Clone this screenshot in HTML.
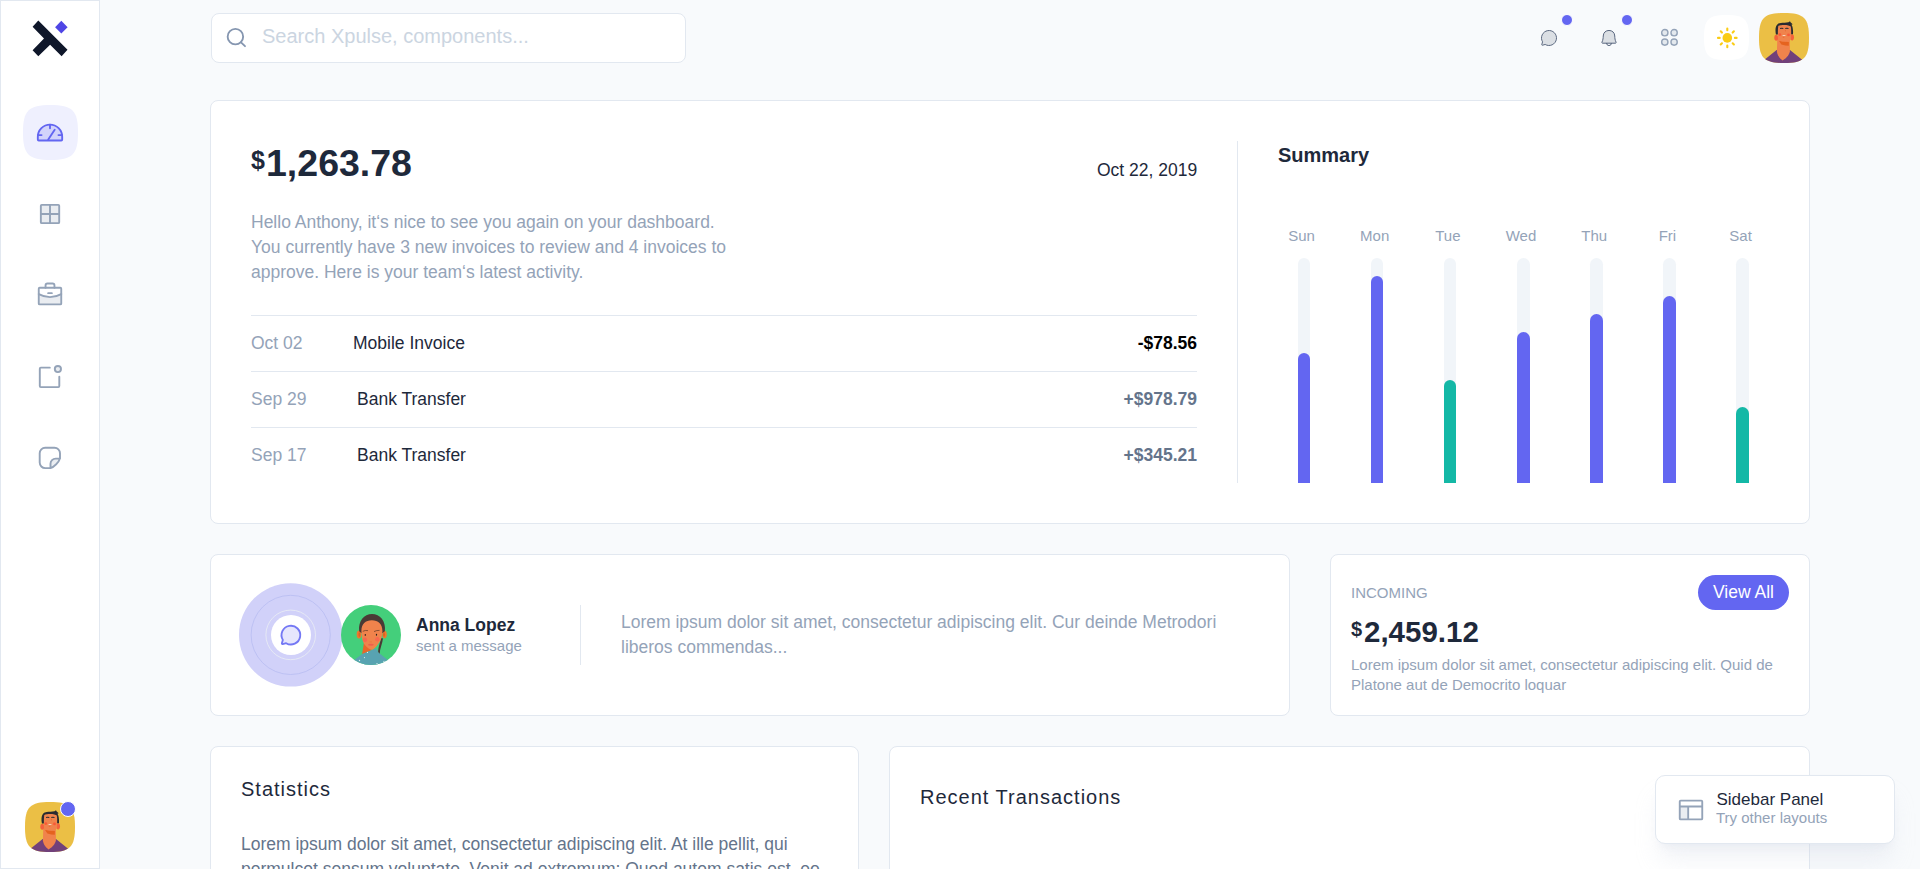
<!DOCTYPE html>
<html lang="en">
<head>
<meta charset="utf-8">
<title>Xpulse Dashboard</title>
<style>
*{box-sizing:border-box;margin:0;padding:0}
html,body{width:1920px;height:869px;overflow:hidden}
body{background:#f8fafc;font-family:"Liberation Sans",sans-serif;color:#1e293b;position:relative}
.abs{position:absolute}
.t{position:absolute;white-space:nowrap;line-height:1}
.card{position:absolute;background:#fff;border:1px solid #e2e8f0;border-radius:8px}
.muted{color:#94a3b8}
.hr{position:absolute;height:1px;background:#e2e8f0}
.vr{position:absolute;width:1px;background:#e2e8f0}
svg{display:block;position:absolute;overflow:visible}
.sq{clip-path:url(#squircle)}
/* sidebar */
#side{position:absolute;left:0;top:0;width:100px;height:869px;background:#fff;border:1px solid #e2e8f0}
/* bars */
.track{position:absolute;top:258px;width:13px;height:225px;background:#f1f5f9;border-radius:7px 7px 0 0;overflow:hidden}
.fill{position:absolute;left:0;bottom:0;width:13px;border-radius:7px 7px 0 0;background:#6366f1}
.fill.g{background:#14b8a6}
.day{position:absolute;top:227px;width:60px;text-align:center;font-size:15px;line-height:17px;color:#94a3b8}
</style>
</head>
<body>
<svg width="0" height="0" style="position:absolute">
  <defs>
    <clipPath id="squircle" clipPathUnits="objectBoundingBox">
      <path d="M0.5,0 C0.9,0 1,0.1 1,0.5 C1,0.9 0.9,1 0.5,1 C0.1,1 0,0.9 0,0.5 C0,0.1 0.1,0 0.5,0 Z"/>
    </clipPath>
  </defs>
</svg>

<!-- SIDEBAR -->
<div id="side"></div>

<!-- logo -->
<svg style="left:30px;top:18px" width="40" height="40" viewBox="0 0 40 40">
  <path d="M2.6,8.7 L8.3,2.6 L37.5,31.8 L31.6,38.3 L20.1,26.7 L8.3,38.3 L2.6,32.3 L14,20.5 Z" fill="#0f172a"/>
  <path d="M31.3,2.8 L37.6,9.3 L31.3,15.5 L25.1,9.3 Z" fill="#4f46e5"/>
</svg>
<!-- active bg -->
<div class="abs sq" style="left:23px;top:105px;width:55px;height:55px;background:#eff0fe"></div>
<!-- gauge -->
<svg style="left:35px;top:118px" width="30" height="30" viewBox="0 0 256 256" fill="none" stroke="#6366f1" stroke-width="16" stroke-linecap="round" stroke-linejoin="round">
  <path d="M24,184 V160 a104,104 0 0 1 208,0 v24 a8,8 0 0 1 -8,8 H32 a8,8 0 0 1 -8,-8 Z" fill="#6366f1" fill-opacity="0.2"/>
  <path d="M128,56 V88 M24,146 H56 M200,146 H232 M113,184 L168,100"/>
</svg>
<!-- grid -->
<svg style="left:30px;top:194px" width="40" height="40" viewBox="0 0 40 40" fill="none" stroke="#94a3b8" stroke-width="1.9" stroke-linejoin="round">
  <rect x="10.85" y="10.85" width="18.35" height="18.3" rx="0.9" fill="#94a3b8" fill-opacity="0.2"/>
  <path d="M20,10.85 V29.15 M10.85,20 H29.2"/>
</svg>
<!-- briefcase -->
<svg style="left:35px;top:280px" width="30" height="30" viewBox="0 0 256 256" fill="none" stroke="#94a3b8" stroke-width="16" stroke-linecap="round" stroke-linejoin="round">
  <path d="M32,120 Q128,172 224,120 V200 a8,8 0 0 1 -8,8 H40 a8,8 0 0 1 -8,-8 Z" fill="#94a3b8" fill-opacity="0.2" stroke="none"/>
  <rect x="32" y="66" width="192" height="142" rx="8"/>
  <path d="M90,66 V46 a16,16 0 0 1 16,-16 H150 a16,16 0 0 1 16,16 V66"/>
  <path d="M32,120 Q128,172 224,120"/>
  <path d="M112,112 H144"/>
</svg>
<!-- notification -->
<svg style="left:30px;top:357px" width="40" height="40" viewBox="0 0 40 40" fill="none" stroke="#94a3b8" stroke-width="1.9" stroke-linecap="round" stroke-linejoin="round">
  <path d="M29.3,19.8 V29.1 a1,1 0 0 1 -1,1 H10.8 a1,1 0 0 1 -1,-1 V11.65 a1,1 0 0 1 1,-1 H19.8"/>
  <circle cx="27.9" cy="12.05" r="3.1" fill="#94a3b8" fill-opacity="0.2"/>
</svg>
<!-- sticker -->
<svg style="left:30px;top:438px" width="40" height="40" viewBox="0 0 40 40" fill="none" stroke="#94a3b8" stroke-width="1.9" stroke-linecap="round" stroke-linejoin="round">
  <path d="M20.5,30.1 V25.8 a5.2,5.2 0 0 1 5.2,-5.2 H30 Z" fill="#94a3b8" fill-opacity="0.2" stroke="none"/>
  <path d="M20.5,30.1 H15.2 A5.5,5.5 0 0 1 9.7,24.6 V15.2 A5.5,5.5 0 0 1 15.2,9.7 H24.5 A5.5,5.5 0 0 1 30,15.2 V20.6 C29,24 24,29 20.5,30.1 V25.8 a5.2,5.2 0 0 1 5.2,-5.2 H30"/>
</svg>
<!-- bottom avatar -->
<svg class="sq" style="left:25px;top:802px" width="50" height="50" viewBox="0 0 50 50"><g>
    <rect width="50" height="50" fill="#ebbf45"/>
    <!-- shirt -->
    <path d="M2,50 L6.7,45.8 L17.6,37 L31,37 L42.8,46.6 L48,50 Z" fill="#71407a"/>
    <!-- neck -->
    <path d="M18.3,26 L30.8,26 L30.9,38.5 C30,43 26,46 23.6,47.4 C21.5,46 18.4,43 17.9,38.5 Z" fill="#f0834c"/>
    <!-- neck shadow -->
    <path d="M20,28 L29.9,29 L29.8,32.7 L26.2,32.4 L22.4,31.4 Z" fill="#e5631f"/>
    <!-- ears -->
    <ellipse cx="17.2" cy="24.8" rx="1.9" ry="3" fill="#f4623b"/>
    <ellipse cx="33.1" cy="24.3" rx="1.9" ry="3.1" fill="#f4623b"/>
    <!-- face -->
    <path d="M18.9,14 C18.9,12.5 20,11.9 25.5,11.9 C31,11.9 32.1,12.5 32.1,14 L32.1,25 C32.1,27.4 29.5,28.6 25.5,28.6 C21.5,28.6 18.9,27.4 18.9,25 Z" fill="#f0834c"/>
    <!-- hair -->
    <path d="M16.9,21.6 C16.2,17.5 16.3,13.8 17.9,11.9 C19.1,10.5 20.4,10 21.8,9.9 C24,9.5 27,10 29.5,9.3 L31,8.2 L31.5,9.3 L33.7,11.3 L32.5,11.7 C33.8,13.5 34.3,17.5 34,21.2 L32.1,21.2 C32.2,18 32.2,15.5 31.8,13.6 C31,12.4 28,11.9 25.5,11.9 C23,11.9 20.5,12.2 19.3,13 C18.9,15 18.9,18 18.9,21.6 Z" fill="#2b2b31"/>
    <circle cx="20.8" cy="21.6" r="1.4" fill="#f85a38"/>
    <circle cx="29.5" cy="21.9" r="1.4" fill="#f85a38"/>
    <path d="M21.1,15.6 Q22.7,14.9 24.3,15.6" stroke="#2b2b31" stroke-width="1.1" fill="none"/>
    <path d="M26.3,15.6 Q27.9,14.9 29.5,15.6" stroke="#2b2b31" stroke-width="1.1" fill="none"/>
    <path d="M26.4,17 L26.5,18.4" stroke="#e0662a" stroke-width="0.6"/>
    <path d="M22.9,22 Q25,22.4 27.1,22 Q25,24 22.9,22 Z" fill="#fff"/>
    <ellipse cx="24.6" cy="24.2" rx="0.9" ry="0.5" fill="#ea6a35"/>
  </g></svg>
<div class="abs" style="left:60px;top:801px;width:16px;height:16px;border-radius:50%;background:#6366f1;border:1px solid #fff"></div>


<!-- TOPBAR -->
<div class="abs" style="left:211px;top:13px;width:475px;height:50px;background:#fff;border:1px solid #e2e8f0;border-radius:8px"></div>
<div class="t" style="left:262px;top:25px;font-size:20px;line-height:22px;color:#cbd5e1">Search Xpulse, components...</div>

<!-- search icon -->
<svg style="left:225px;top:26px" width="24" height="24" viewBox="0 0 24 24" fill="none" stroke="#8596b0" stroke-width="1.85" stroke-linecap="round">
  <circle cx="10.4" cy="10.65" r="7.75"/><path d="M16.0,16.3 L20.0,20.2"/>
</svg>
<!-- chat -->
<svg style="left:1539px;top:28px" width="20" height="20" viewBox="0 0 256 256">
  <path d="M45.4,177 A96,96 0 1 1 79,210.6 L44,220.6 a8,8 0 0 1 -8.6,-8.6 Z" fill="#475569" fill-opacity="0.16" stroke="#526079" stroke-width="12" stroke-linejoin="round"/>
</svg>
<div class="abs" style="left:1561px;top:14px;width:12px;height:12px;border-radius:50%;background:#6366f1;border:1px solid #fff"></div>
<!-- bell -->
<svg style="left:1599px;top:28px" width="20" height="20" viewBox="0 0 20 20" fill="none" stroke="#526079" stroke-width="0.95" stroke-linejoin="round" stroke-linecap="round">
  <path d="M3.5,15.2 C2.8,15.2 2.7,14.6 3,14 C4,12 4.2,10 4.25,8 C4.3,4.6 6.8,2.45 10,2.45 C13.2,2.45 15.7,4.6 15.75,8 C15.8,10 16,12 17,14 C17.3,14.6 17.2,15.2 16.5,15.2 Z" fill="#475569" fill-opacity="0.16"/>
  <path d="M7.6,15.4 a2.4,2.2 0 0 0 4.8,0"/>
</svg>
<div class="abs" style="left:1621px;top:14px;width:12px;height:12px;border-radius:50%;background:#6366f1;border:1px solid #fff"></div>
<!-- circles four -->
<svg style="left:1659px;top:28px" width="20" height="20" viewBox="0 0 20 20" fill="#94a3b8" fill-opacity="0.2" stroke="#94a3b8" stroke-width="1.4">
  <circle cx="5.8" cy="4.7" r="3.15"/><circle cx="15.1" cy="4.7" r="3.15"/><circle cx="5.8" cy="14.1" r="3.15"/><circle cx="15.1" cy="14.1" r="3.15"/>
</svg>
<!-- sun -->
<div class="abs sq" style="left:1704px;top:15px;width:45px;height:45px;background:#fff"></div>
<svg style="left:1715px;top:26px" width="24" height="24" viewBox="0 0 24 24" stroke="#facc15" stroke-width="2.1" stroke-linecap="round">
  <circle cx="12.3" cy="11.9" r="4.8" fill="#facc15" stroke="none"/>
  <g transform="translate(12.3,11.9)">
    <path d="M0,-7.6 V-9.3 M0,7.6 V9.3 M-7.6,0 H-9.3 M7.6,0 H9.3 M5.37,-5.37 L6.58,-6.58 M-5.37,-5.37 L-6.58,-6.58 M5.37,5.37 L6.58,6.58 M-5.37,5.37 L-6.58,6.58"/>
  </g>
</svg>
<!-- avatar -->
<svg class="sq" style="left:1759px;top:13px" width="50" height="50" viewBox="0 0 50 50"><g>
    <rect width="50" height="50" fill="#ebbf45"/>
    <!-- shirt -->
    <path d="M2,50 L6.7,45.8 L17.6,37 L31,37 L42.8,46.6 L48,50 Z" fill="#71407a"/>
    <!-- neck -->
    <path d="M18.3,26 L30.8,26 L30.9,38.5 C30,43 26,46 23.6,47.4 C21.5,46 18.4,43 17.9,38.5 Z" fill="#f0834c"/>
    <!-- neck shadow -->
    <path d="M20,28 L29.9,29 L29.8,32.7 L26.2,32.4 L22.4,31.4 Z" fill="#e5631f"/>
    <!-- ears -->
    <ellipse cx="17.2" cy="24.8" rx="1.9" ry="3" fill="#f4623b"/>
    <ellipse cx="33.1" cy="24.3" rx="1.9" ry="3.1" fill="#f4623b"/>
    <!-- face -->
    <path d="M18.9,14 C18.9,12.5 20,11.9 25.5,11.9 C31,11.9 32.1,12.5 32.1,14 L32.1,25 C32.1,27.4 29.5,28.6 25.5,28.6 C21.5,28.6 18.9,27.4 18.9,25 Z" fill="#f0834c"/>
    <!-- hair -->
    <path d="M16.9,21.6 C16.2,17.5 16.3,13.8 17.9,11.9 C19.1,10.5 20.4,10 21.8,9.9 C24,9.5 27,10 29.5,9.3 L31,8.2 L31.5,9.3 L33.7,11.3 L32.5,11.7 C33.8,13.5 34.3,17.5 34,21.2 L32.1,21.2 C32.2,18 32.2,15.5 31.8,13.6 C31,12.4 28,11.9 25.5,11.9 C23,11.9 20.5,12.2 19.3,13 C18.9,15 18.9,18 18.9,21.6 Z" fill="#2b2b31"/>
    <circle cx="20.8" cy="21.6" r="1.4" fill="#f85a38"/>
    <circle cx="29.5" cy="21.9" r="1.4" fill="#f85a38"/>
    <path d="M21.1,15.6 Q22.7,14.9 24.3,15.6" stroke="#2b2b31" stroke-width="1.1" fill="none"/>
    <path d="M26.3,15.6 Q27.9,14.9 29.5,15.6" stroke="#2b2b31" stroke-width="1.1" fill="none"/>
    <path d="M26.4,17 L26.5,18.4" stroke="#e0662a" stroke-width="0.6"/>
    <path d="M22.9,22 Q25,22.4 27.1,22 Q25,24 22.9,22 Z" fill="#fff"/>
    <ellipse cx="24.6" cy="24.2" rx="0.9" ry="0.5" fill="#ea6a35"/>
  </g></svg>


<!-- CARD 1 -->
<div class="card" style="left:210px;top:100px;width:1600px;height:424px"></div>
<div class="t" style="left:251px;top:148px;font-size:25px;font-weight:700;color:#1e293b">$</div>
<div class="t" style="left:266px;top:144.5px;font-size:37.5px;font-weight:700;color:#1e293b">1,263.78</div>
<div class="t" style="left:1097px;top:162px;width:100px;text-align:right;font-size:17.5px;color:#1e293b">Oct 22, 2019</div>
<div class="abs muted" style="left:251px;top:210px;width:520px;font-size:17.5px;line-height:25px">Hello Anthony, it‘s nice to see you again on your dashboard.<br>You currently have 3 new invoices to review and 4 invoices to<br>approve. Here is your team‘s latest activity.</div>
<div class="hr" style="left:251px;top:315px;width:946px"></div>
<div class="hr" style="left:251px;top:371px;width:946px"></div>
<div class="hr" style="left:251px;top:427px;width:946px"></div>
<div class="t muted" style="left:251px;top:335px;font-size:17.5px">Oct 02</div>
<div class="t" style="left:353px;top:335px;font-size:17.5px;color:#1e293b">Mobile Invoice</div>
<div class="t" style="left:997px;width:200px;text-align:right;top:335px;font-size:17.5px;font-weight:700;color:#000">-$78.56</div>
<div class="t muted" style="left:251px;top:391px;font-size:17.5px">Sep 29</div>
<div class="t" style="left:357px;top:391px;font-size:17.5px;color:#1e293b">Bank Transfer</div>
<div class="t" style="left:997px;width:200px;text-align:right;top:391px;font-size:17.5px;font-weight:700;color:#64748b">+$978.79</div>
<div class="t muted" style="left:251px;top:447px;font-size:17.5px">Sep 17</div>
<div class="t" style="left:357px;top:447px;font-size:17.5px;color:#1e293b">Bank Transfer</div>
<div class="t" style="left:997px;width:200px;text-align:right;top:447px;font-size:17.5px;font-weight:700;color:#64748b">+$345.21</div>
<div class="vr" style="left:1237px;top:141px;height:342px"></div>
<div class="t" style="left:1278px;top:145px;font-size:20px;font-weight:700;color:#1e293b">Summary</div>
<div class="day" style="left:1271.5px">Sun</div>
<div class="track" style="left:1298px;width:12px"><div class="fill " style="height:130px;width:12px"></div></div>
<div class="day" style="left:1344.7px">Mon</div>
<div class="track" style="left:1371px;width:12px"><div class="fill " style="height:207px;width:12px"></div></div>
<div class="day" style="left:1417.9px">Tue</div>
<div class="track" style="left:1444px;width:12px"><div class="fill g" style="height:103px;width:12px"></div></div>
<div class="day" style="left:1491.0px">Wed</div>
<div class="track" style="left:1517px;width:13px"><div class="fill " style="height:151px;width:13px"></div></div>
<div class="day" style="left:1564.2px">Thu</div>
<div class="track" style="left:1590px;width:13px"><div class="fill " style="height:169px;width:13px"></div></div>
<div class="day" style="left:1637.4px">Fri</div>
<div class="track" style="left:1663px;width:13px"><div class="fill " style="height:187px;width:13px"></div></div>
<div class="day" style="left:1710.6px">Sat</div>
<div class="track" style="left:1736px;width:13px"><div class="fill g" style="height:76px;width:13px"></div></div>

<!-- CARD 2 -->
<div class="card" style="left:210px;top:554px;width:1080px;height:162px"></div>

<svg class="abs" style="left:238px;top:582px" width="106" height="106" viewBox="0 0 106 106">
  <circle cx="52.7" cy="52.9" r="51.7" fill="#d1d1f9"/>
  <circle cx="52.7" cy="52.9" r="39.6" fill="none" stroke="#b7bcf1" stroke-width="0.8"/>
  <circle cx="52.7" cy="52.9" r="24.8" fill="none" stroke="#e8ebf4" stroke-width="0.9"/>
  <circle cx="53" cy="53" r="20" fill="#fff"/>
  <g transform="translate(40.4,40.6) scale(0.0977)">
    <path d="M45.4,177 A96,96 0 1 1 79,210.6 L44,220.6 a8,8 0 0 1 -8.6,-8.6 Z" fill="#6366f1" fill-opacity="0.16" stroke="#7478f4" stroke-width="19" stroke-linejoin="round" stroke-linecap="round"/>
  </g>
</svg>
<svg class="abs" style="left:341px;top:604.8px" width="60" height="60" viewBox="0 0 60 60">
  <defs><clipPath id="c60"><circle cx="30" cy="30" r="30"/></clipPath></defs>
  <g clip-path="url(#c60)">
    <rect width="60" height="60" fill="#44cf7b"/>
    <!-- ponytail -->
    <path d="M42,33.2 C41.6,38 38.8,43.5 38.6,49.4 L37.3,48.6 C36.6,43 39.2,38 40,33.2 Z" fill="#4a3a35"/>
    <!-- neck shadow -->
    <path d="M22.9,38 L21.1,49.2 L31,45 Z" fill="#e8672b"/>
    <!-- body -->
    <path d="M8,60 L13.2,55 L21.2,48.9 L35.3,43.2 L37.4,47.6 L46.8,54.9 L52,60 Z" fill="#58a3b1"/>
    <!-- ears -->
    <ellipse cx="18" cy="29.5" rx="2.3" ry="3.9" fill="#ef772f"/>
    <ellipse cx="43.6" cy="29.6" rx="2.2" ry="3.8" fill="#ef772f"/>
    <ellipse cx="18.4" cy="29.6" rx="0.9" ry="2.3" fill="#e0611f"/>
    <ellipse cx="43" cy="29.6" rx="0.9" ry="2.3" fill="#e0611f"/>
    <!-- hair -->
    <path d="M18.15,26.3 C17,15.5 23,8.9 31,8.9 C39,8.9 45,15.5 43.85,26.3 L41.5,28 L20.3,28 Z" fill="#4a3a35"/>
    <!-- face -->
    <path d="M20.4,26 C20.4,19 24.5,15.3 30.8,15.3 C37.2,15.3 41.4,19 41.4,26 C41.4,31 40.2,34.5 38.2,37.6 C36.2,40.8 34,43.5 32,44.5 C30.5,45 28.5,44.2 27,43 C24.5,41 22.9,38.8 22.2,37 C20.9,33.5 20.4,30 20.4,26 Z" fill="#f0834c"/>
    <circle cx="24" cy="34.8" r="2.2" fill="#f8684f"/>
    <circle cx="36.3" cy="34.3" r="2.2" fill="#f8684f"/>
    <ellipse cx="24.3" cy="29.9" rx="0.65" ry="0.95" fill="#2b211e"/>
    <ellipse cx="35.5" cy="29.8" rx="0.65" ry="0.95" fill="#2b211e"/>
    <path d="M21.8,26.3 Q24.5,25 27,25.6" stroke="#4a2e22" stroke-width="0.6" fill="none"/>
    <path d="M33,26.6 Q35.5,25.2 38.5,25.4" stroke="#4a2e22" stroke-width="0.6" fill="none"/>
    <ellipse cx="29.9" cy="39.7" rx="2.9" ry="0.95" fill="#ee5f4d"/>
    <path d="M28.6,36.8 L30.8,36.9" stroke="#e36f3c" stroke-width="0.6"/>
    <circle cx="26.5" cy="47.4" r="0.6" fill="#dbeef0"/><circle cx="23.5" cy="52.6" r="0.6" fill="#dbeef0"/><circle cx="18.5" cy="55.5" r="0.7" fill="#dbeef0"/><circle cx="43" cy="56.5" r="0.7" fill="#dbeef0"/><circle cx="36" cy="58.8" r="0.7" fill="#dbeef0"/>
  </g>
</svg>
<div class="t" style="left:416px;top:617px;font-size:17.5px;font-weight:700;color:#1e293b">Anna Lopez</div>
<div class="t muted" style="left:416px;top:638px;font-size:15px">sent a message</div>
<div class="vr" style="left:580px;top:605px;height:60px"></div>
<div class="abs muted" style="left:621px;top:610px;width:640px;font-size:17.5px;line-height:25px">Lorem ipsum dolor sit amet, consectetur adipiscing elit. Cur deinde Metrodori<br>liberos commendas...</div>


<!-- CARD 3 -->
<div class="card" style="left:1330px;top:554px;width:480px;height:162px"></div>

<div class="t muted" style="left:1351px;top:585px;font-size:15px">INCOMING</div>
<div class="abs" style="left:1698px;top:575px;width:91px;height:35px;border-radius:18px;background:#6366f1"></div>
<div class="t" style="left:1698px;top:584px;width:91px;text-align:center;font-size:17.5px;color:#fff">View All</div>
<div class="t" style="left:1351px;top:619px;font-size:20px;font-weight:700;color:#1e293b">$</div>
<div class="t" style="left:1364px;top:617px;font-size:29.5px;font-weight:700;color:#1e293b">2,459.12</div>
<div class="abs muted" style="left:1351px;top:655px;width:440px;font-size:15px;line-height:20px">Lorem ipsum dolor sit amet, consectetur adipiscing elit. Quid de<br>Platone aut de Democrito loquar</div>


<!-- CARD 4 / 5 -->
<div class="card" style="left:210px;top:746px;width:649px;height:200px"></div>
<div class="card" style="left:889px;top:746px;width:921px;height:200px"></div>

<div class="t" style="left:241px;top:779px;font-size:20px;letter-spacing:1px;color:#1e293b">Statistics</div>
<div class="abs" style="left:241px;top:832px;width:600px;font-size:17.5px;line-height:25px;color:#64748b">Lorem ipsum dolor sit amet, consectetur adipiscing elit. At ille pellit, qui<br>permulcet sensum voluptate. Venit ad extremum; Quod autem satis est, eo</div>
<div class="t" style="left:920px;top:787px;font-size:20px;letter-spacing:1px;color:#1e293b">Recent Transactions</div>


<!-- FLOATING PANEL -->

<div class="abs" style="left:1655px;top:775px;width:240px;height:69px;background:#fff;border:1px solid #e2e8f0;border-radius:10px;box-shadow:0 20px 25px -5px rgba(203,213,225,.28),0 8px 10px -6px rgba(203,213,225,.28)"></div>
<svg class="abs" style="left:1676px;top:795px" width="30" height="30" viewBox="0 0 256 256">
  <rect x="32" y="48" width="192" height="160" rx="8" fill="none" stroke="#94a3b8" stroke-width="16"/>
  <rect x="32" y="98" width="72" height="110" fill="#94a3b8" fill-opacity="0.2"/>
  <path d="M32,98 H224 M104,98 V208" stroke="#94a3b8" stroke-width="16" fill="none"/>
</svg>
<div class="t" style="left:1716.5px;top:791px;font-size:17px;color:#1e293b">Sidebar Panel</div>
<div class="t muted" style="left:1716px;top:810px;font-size:15px">Try other layouts</div>

</body>
</html>
